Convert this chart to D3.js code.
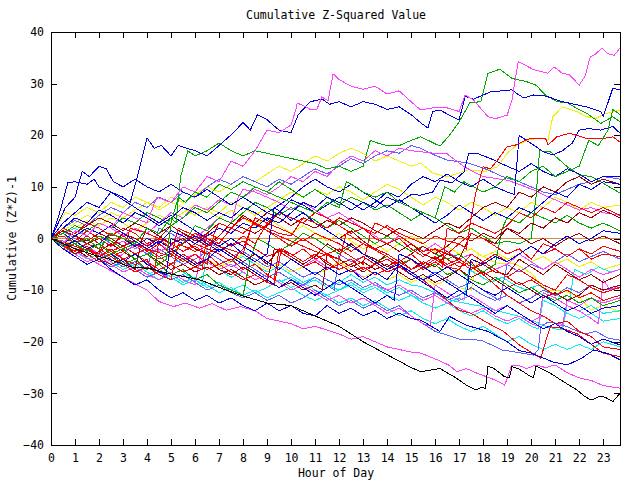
<!DOCTYPE html>
<html>
<head>
<meta charset="utf-8">
<script src="https://cdn.jsdelivr.net/npm/d3@7"></script>
<style>
  body { margin: 0; background: #fff; }
  text { font-family: "DejaVu Sans Mono", monospace; font-size: 11.5px; fill: #000; }
</style>
</head>
<body>
<svg id="chart" width="640" height="480"></svg>
<script>
// tick labels
const hourTicks = d3.range(0, 24);
const valueTicks = [-40, -30, -20, -10, 0, 10, 20, 30, 40];

// each series: [hour, cumulative value]
const magentaTop = [[0,0],[0.5,-1],[1,1.5],[1.5,0.5],[2,3],[2.5,2],[3,5],[3.5,4],[4,3],[4.4,8],[5,7],[5.5,10],[6,9],[6.5,12],[7,11],[7.5,15],[8,14],[8.5,17],[9,21],[9.5,20.5],[10,22],[10.2,25],[10.25,26.2],[10.45,25.9],[10.8,25],[11.07,25],[11.28,27.4],[11.54,26.7],[11.75,31.9],[12,30.8],[12.5,29.5],[13,28.9],[13.5,29.5],[14,28],[14.5,28.6],[15,26.5],[15.4,24.9],[15.9,25.3],[16.5,25.3],[17,24.6],[17.25,27.8],[17.6,26.8],[18.2,23.6],[18.5,23.2],[19,23.9],[19.2,26.8],[19.46,34.3],[20.1,32.7],[20.7,32],[20.96,33.2],[21.3,32],[21.6,31.7],[22,29.7],[22.25,31.5],[22.46,35.2],[22.67,35.7],[22.95,36.9],[23.2,35.8],[23.46,35.5],[23.7,36.9]];
const greenTop = [[0,0],[0.5,1],[1,-1],[1.5,0],[2,-2],[2.5,1],[3,0],[3.5,-1],[4,2],[4.5,1],[5,4],[5.2,3],[5.4,12],[5.7,17],[6,16],[6.5,17],[7,18.5],[7.5,17],[8,16],[8.5,17],[9,16.5],[9.5,16],[10,15.5],[10.5,15],[11,14.5],[11.5,13.5],[12,14],[12.5,13],[13,14],[13.3,19],[13.6,18.5],[14,18],[14.5,18],[15,19],[15.4,19.7],[16.2,17.9],[16.6,20],[17,22.6],[17.45,26.3],[17.9,26.5],[18.2,32],[18.7,32.8],[19.2,31],[19.8,30.4],[20.2,29.7],[20.6,27.8],[21.07,26.5],[21.5,26.3],[21.9,25.2],[22.3,24.3],[22.9,22.3],[23.4,23.6],[23.7,22.6]];
const blueTop = [[0,0],[0.5,3],[1,5],[1.5,7],[2,6],[2.5,9],[3,8],[3.3,7],[3.6,12],[4,19.5],[4.3,17.5],[4.6,18],[5,16],[5.3,18],[6,17],[6.5,16],[7,18],[7.6,20.5],[8,22.5],[8.3,21],[8.6,24],[9,23],[9.5,21],[10,20.5],[10.3,24],[10.8,26.5],[11.3,27],[11.6,26],[12,26.5],[12.5,25.5],[13,26.5],[13.5,26],[14,25],[14.5,25.5],[15,24],[15.4,22.4],[15.7,21.4],[15.9,24.6],[16.2,24.9],[16.7,23.6],[17,23],[17.25,27.5],[17.6,27],[18.3,28.4],[19.2,28.8],[19.4,28.1],[19.7,27.2],[20.1,27.8],[20.6,27.6],[21.3,26.5],[21.9,25.9],[22.3,25.5],[22.9,24.6],[23,23.6],[23.4,29.1],[23.7,28.8]];
const green2 = [[0,0],[0.5,-1.5],[1,-1],[1.5,-2.5],[2,-1],[2.5,-3],[3,-2],[3.5,-4],[4,-3],[4.5,-5],[4.8,-4],[5,3],[5.3,8],[5.6,7],[6,9],[6.5,8],[7,10.5],[7.5,9.5],[8,11],[8.5,10],[9,9],[9.5,8],[10,7],[10.5,6],[11,5],[11.5,7],[12,6],[12.3,11],[12.7,10],[13,9],[13.5,8],[14,9],[14.5,7],[15,6],[15.5,5],[16,4],[16.4,10],[16.8,9],[17.2,11],[17.6,10],[18,9],[18.5,10],[19,12],[19.5,11],[20,13],[20.5,14],[21,12],[21.5,13],[22,14],[22.4,19],[22.8,18],[23.2,21],[23.4,25],[23.7,24]];
const green3 = [[0,0],[0.5,1],[1,2.5],[1.5,1.5],[2,3],[2.5,2],[3,4],[3.5,3],[4,5],[4.5,4],[5,2.5],[5.5,4],[6,6],[6.5,5],[7,7],[7.5,9],[8,8],[8.5,10],[9,9],[9.5,11],[10,9.5],[10.5,8],[11,9.5],[11.5,8],[12,6.5],[12.5,8],[13,7],[13.5,5.5],[14,6.5],[14.5,5],[15,3.5],[15.5,5],[16,4],[16.5,2.5],[17,1],[17.5,2],[18,0.5],[18.5,-1],[19,-0.5],[19.5,-1],[20,0],[20.2,8],[20.35,17],[20.8,16.8],[21.5,13.9],[22,12.3],[22.5,12],[23,10.7],[23.7,8.8]];
const green4 = [[0,0],[0.5,-1],[1,-2],[1.5,-1],[2,0.5],[2.5,-0.5],[3,-2],[3.5,-1],[4,-2.5],[4.5,-4],[5,-3],[5.5,-1],[6,2.5],[6.5,1.5],[7,4],[7.5,3],[8,5],[8.5,7],[9,6],[9.5,4.5],[10,6],[10.5,5],[11,3.5],[11.5,2],[12,3.5],[12.5,2],[13,0.5],[13.5,-1],[14,0.5],[14.5,-1],[15,-2.5],[15.5,-1.5],[16,-3],[16.5,-4],[17,-3],[17.5,-5],[18,-6.5],[18.5,-5],[18.8,2],[19,4],[19.5,3],[20,5],[20.5,4],[21,3],[21.5,4.5],[22,3],[22.5,2],[23,3],[23.7,1.5]];
const green5 = [[0,0],[0.5,-1.5],[1,-3],[1.5,-2],[2,-4],[2.5,-3],[3,-5],[3.5,-4],[4,-6],[4.5,-5],[5,-7],[5.5,-6],[6,-8],[6.5,-7],[7,-9],[7.5,-10],[8,-11],[8.3,-4],[8.6,0],[9,-1],[9.5,-2.5],[10,-1],[10.5,1],[11,0],[11.5,-1.5],[12,-3],[12.5,-1.5],[13,-3],[13.5,-4.5],[14,-3.5],[14.5,-5],[15,-4],[15.5,-6],[16,-5],[16.5,-7],[17,-6],[17.5,-8],[18,-9],[18.5,-7.5],[19,-9],[19.5,-10.5],[20,-9.5],[20.5,-11],[21,-12],[21.5,-11],[22,-12.5],[22.5,-11.5],[23,-13],[23.7,-12]];
const red1 = [[0,0],[0.5,2],[1,1],[1.5,3],[2,2],[2.5,0.5],[3,2],[3.5,1],[4,-1],[4.5,0],[5,-2],[5.5,-1],[6,1],[6.5,0],[7,-1],[7.5,2],[8,1],[8.5,3],[9,2],[9.5,1],[10,0.5],[10.5,4],[11,3],[11.5,2],[12,4],[12.5,3],[13,2],[13.5,1],[14,2.5],[14.5,1],[15,0],[15.5,-1],[16,0.5],[16.5,-0.5],[17,-1],[17.3,-2],[17.5,4],[17.7,9],[18,13.9],[18.3,13.5],[18.6,15.2],[19,17.8],[19.3,18],[19.96,19.4],[20.6,19.4],[20.7,18.1],[21.07,19.7],[21.6,20.4],[22.3,19.4],[22.9,19.3],[23.4,19.7],[23.7,18.7]];
const red2 = [[0,0],[1,-1.5],[2,-3],[2.4,1],[3,0],[4,-2],[5,-3.5],[5.3,2],[6,0.5],[7,-1.5],[8,-3],[8.4,3],[9,1.5],[10,-0.5],[11,-2.5],[12,-4],[12.3,1],[13,-1],[14,-3.5],[15,-6.5],[15.5,-8],[16,-10],[17,-13.9],[17.5,-14.5],[18.2,-16.4],[18.85,-18],[19.5,-20.6],[20.4,-23.2],[20.6,-20],[20.8,-17.1],[21.2,-17.3],[21.9,-18.4],[22.5,-20.5],[23,-22.2],[23.7,-22.9]];
const red3 = [[0,0],[0.5,-1],[1,-2.5],[1.5,-1],[2,-2],[2.5,-3.5],[3,-2.5],[3.3,2],[4,1],[5,-1],[5.5,-2.5],[6,-1],[7,-3],[7.5,-4.5],[8,-2],[8.5,4],[9,3],[10,1],[10.5,-0.5],[11,1],[12,-1],[12.5,-2.5],[13,-1],[14,-3],[14.5,-4.5],[15,-3],[15.5,-5],[16,-3.5],[16.5,-5.5],[17,-6],[17.5,-3],[18,-4.5],[18.5,-6],[19,-7.5],[19.5,-6],[20,-7.5],[20.5,-9],[21,-10],[21.5,-7],[22,-8],[22.5,-9.5],[23,-10.5],[23.7,-9.5]];
const red4 = [[0,0],[0.5,-1.5],[1,-2.5],[1.5,-1.5],[2,-3.5],[2.5,-2],[3,-4],[3.5,-5],[4,-4],[4.3,-6.5],[4.5,0],[5,-1],[5.5,-2.5],[6,-1.5],[6.5,-3],[7,-5],[7.5,-4],[8,-6],[8.5,-5],[9,-7],[9.3,-8],[9.5,-2],[10,-3.5],[10.5,-2],[11,-4],[11.5,-3],[12,-5],[12.5,-4],[13,-6],[13.5,-5],[14,-4],[14.5,-5.5],[15,-4],[15.5,-6],[16,-4.5],[16.3,-5.5],[16.5,2],[17,1],[17.5,3],[18,2],[18.5,1],[19,2.5],[19.5,5],[20,4],[20.5,6],[21,5],[21.5,7],[22,6],[22.5,5],[23,6],[23.7,4.5]];
const red5 = [[0,0],[0.5,-2],[1,-1],[1.5,-3],[2,-4.5],[2.5,-3.5],[3,-5],[3.5,-6.5],[4,-5.5],[4.5,-7],[5,-8],[5.3,-1],[6,-2.5],[6.5,-1.5],[7,0],[7.5,-1.5],[8,0.5],[8.5,-1],[9,3],[9.5,5],[10,4],[10.5,3],[11,5],[11.5,4],[12,2.5],[12.5,1],[13,2],[13.5,0],[14,-1],[14.5,0],[15,-2],[15.5,-3.5],[16,-2],[16.5,-3],[17,-1],[17.5,1],[18,0],[18.5,-1.5],[19,-3],[19.5,-2],[20,-4],[20.5,-1],[21,-2],[21.5,-3.5],[22,-2],[22.5,-4],[23,-3],[23.7,-3.5]];
const red7 = [[0,0],[0.5,1],[1,-0.5],[1.5,1.5],[2,0],[2.5,-1.5],[3,0.5],[3.5,-1],[4,-2.5],[4.5,-1],[5,-3],[5.5,-4.5],[6,-3],[6.5,-5],[6.8,1],[7,3],[7.5,2],[8,4],[8.5,3],[9,1.5],[9.5,0],[10,-1.5],[10.5,0],[11,-1.5],[11.5,-3],[12,-2],[12.5,-3.5],[13,-5],[13.3,1],[13.5,3],[14,2],[14.5,0.5],[15,-1],[15.5,-2.5],[16,-2],[16.5,-4],[17,-5.5],[17.5,-4.5],[18,-7],[18.5,-9],[19,-11],[19.5,-12.5],[20,-14],[20.5,-15],[21,-16.5],[21.5,-16],[22,-18],[22.5,-19],[23,-21],[23.7,-21.5]];
const red8 = [[0,0],[0.5,-1.5],[1,-0.5],[1.5,-2],[2,-3.5],[2.5,-2.5],[3,-4],[3.5,-3],[4,-4.5],[4.5,-6],[5,-5],[5.5,-6.5],[6,-5.5],[6.3,-6],[6.5,1],[7,0],[7.5,-1.5],[8,-0.5],[8.5,-2],[9,-3.5],[9.5,-2.5],[10,-4],[10.5,-5.5],[11,-4.5],[11.5,-6],[12,-5],[12.5,-6.5],[13,-5.5],[13.5,-7],[14,-6],[14.5,-4.5],[15,-6],[15.5,-5],[16,-3.5],[16.5,-5],[17,-4],[17.5,-5.5],[18,-7],[18.5,-6],[19,-7.5],[19.5,-9],[20,-8],[20.5,-9.5],[21,-11],[21.5,-10],[22,-11.5],[22.5,-10.5],[23,-12],[23.7,-11]];
const red9 = [[0,0],[0.5,0.5],[1,-1],[1.5,0.5],[2,-1],[2.5,-2.5],[3,-1.5],[3.5,-3],[4,-2],[4.5,-3.5],[5,-5],[5.5,-3],[6,-4.5],[6.5,-6],[7,-5],[7.5,-6.5],[8,-8],[8.5,-7],[9,-8.5],[9.3,-9],[9.6,-2],[10,-3],[10.5,-4.5],[11,-3],[11.5,-4.5],[12,-6],[12.5,-5],[13,-3.5],[13.5,-5],[14,-6.5],[14.5,-5.5],[15,-7],[15.5,-5.5],[16,-4],[16.5,-5.5],[17,-4.5],[17.5,-6],[18,-4.5],[18.5,-3],[19,-4.5],[19.5,-3],[20,-1.5],[20.5,-3],[21,-2],[21.5,-3.5],[22,-2],[22.5,-3],[23,-1.5],[23.7,-2.5]];
const darkRed1 = [[0,0],[0.5,1.5],[1,0.5],[1.5,-1],[2,0],[2.5,-1.5],[3,1],[3.5,0],[4,-1.5],[4.5,0],[5,2.5],[5.5,1],[6,0],[6.5,-1.5],[7,0.5],[7.5,3],[8,2],[8.5,1],[9,2.5],[9.5,5],[10,4],[10.5,3],[11,2],[11.5,3.5],[12,2.5],[12.5,4],[13,3],[13.5,1.5],[14,0.5],[14.5,2],[15,1],[15.5,0],[16,1.5],[16.5,3],[17,2],[17.5,4],[18,6],[18.5,7],[19,6],[19.5,9],[20,8],[20.5,10],[21,9],[21.5,11],[22,12],[22.5,10.5],[23,11.5],[23.7,10.5]];
const darkRed2 = [[0,0],[0.5,-1],[1,-3],[1.5,-2],[2,-4],[2.5,-5],[3,-4],[3.5,-6],[3.8,0],[4,2],[4.5,1],[5,2.5],[5.5,1],[6,-0.5],[6.5,1],[7,3],[7.5,2],[8,4.5],[8.5,3],[9,5],[9.5,4],[10,2.5],[10.5,4],[11,3],[11.5,1.5],[12,0],[12.5,1.5],[13,-0.5],[13.5,-2],[14,-1],[14.5,-2.5],[15,-1],[15.5,-3],[16,-4],[16.5,-2.5],[17,-4.5],[17.5,-6],[18,-5],[18.5,-6.5],[19,-7],[19.5,-4],[20,-5.5],[20.5,-7],[21,-5],[21.5,-6.5],[22,-8],[22.5,-7],[23,-8.5],[23.7,-7]];
const darkRed3 = [[0,0],[0.5,2],[1,1],[1.5,2.5],[2,4],[2.5,3],[3,1.5],[3.5,3],[4,2],[4.5,0.5],[5,-1],[5.5,0],[6,-2],[6.5,-3],[7,-1.5],[7.5,-3],[8,-4.5],[8.5,-3],[9,-5],[9.5,-2],[10,-3.5],[10.5,-5],[11,-3.5],[11.5,-1],[12,-2.5],[12.5,-1],[13,-3],[13.5,-4],[14,-5.5],[14.5,-4],[15,-6],[15.5,-4.5],[16,-5.5],[16.5,-3],[17,-4],[17.5,1],[18,0],[18.5,-1],[19,2],[19.5,1],[20,3],[20.5,2],[21,4],[21.5,3],[22,5],[22.5,4],[23,5.5],[23.7,4]];
const darkRed4 = [[0,0],[0.5,-1],[1,0.5],[1.5,-0.5],[2,1],[2.5,0],[3,-1.5],[3.5,-0.5],[4,-2],[4.5,-3.5],[5,-2.5],[5.5,-4],[6,-5.5],[6.5,-4],[7,-6],[7.5,-7],[8,-5.5],[8.5,-7],[9,-8.5],[9.3,-2],[10,-3],[10.5,-4.5],[11,-3],[11.5,-5],[12,-6],[12.5,-5],[13,-6.5],[13.5,-5],[14,-3],[14.5,-4.5],[15,-3],[15.5,-1.5],[16,-3],[16.5,-1.5],[17,0.5],[17.5,-0.5],[18,1],[18.5,0],[19,2],[19.5,0.5],[20,-1],[20.5,0],[21,-1.5],[21.5,0],[22,1],[22.5,-0.5],[23,0.5],[23.7,-1]];
const darkRed5 = [[0,0],[0.5,-1],[1,-2],[1.5,-3.5],[2,-2.5],[2.5,-1],[3,-2.5],[3.5,-4],[4,-3],[4.5,-4.5],[5,-6],[5.5,-5],[6,-6.5],[6.5,-5.5],[7,-7],[7.5,-6],[8,-7.5],[8.5,-9],[9,-8],[9.5,-9.5],[10,-8.5],[10.5,-10],[11,-9],[11.3,-10],[11.5,-3],[12,-4],[12.5,-5.5],[13,-4.5],[13.5,-6],[14,-5],[14.5,-6.5],[15,-8],[15.5,-7],[16,-8.5],[16.5,-7.5],[17,-6],[17.5,-7.5],[18,-6.5],[18.5,-8],[19,-9.5],[19.5,-8.5],[20,-10],[20.5,-11.5],[21,-10.5],[21.5,-12],[22,-11],[22.5,-9],[23,-10],[23.7,-9]];
const blue2 = [[0,0],[0.5,2],[1,4],[1.5,3],[2,5.5],[2.5,4.5],[3,3],[3.5,5],[4,4],[4.5,2.5],[5,4],[5.5,6],[6,5],[6.5,3.5],[7,5],[7.5,4],[8,6],[8.5,5],[9,3.5],[9.5,5],[10,7.5],[10.5,6.5],[11,5],[11.5,6.5],[12,8],[12.5,7],[13,5.5],[13.5,7],[14,9],[14.5,8],[15,10.5],[15.5,12],[16,11],[16.5,12.5],[17,11],[17.5,10],[18,11.5],[18.5,10],[19,9],[19.3,8.5],[19.5,20],[19.8,19],[20.2,17.8],[20.5,16.8],[20.9,16.2],[21.3,17],[21.7,18.4],[22,21],[22.4,21.3],[22.9,21],[23.4,21.7],[23.7,20.4]];
const blue3 = [[0,0],[0.5,-1.5],[1,-0.5],[1.5,-2],[2,-1],[2.5,1],[3,0],[3.5,-1.5],[4,0],[4.5,-1],[5,1.5],[5.5,0.5],[6,-1],[6.5,0.5],[7,2],[7.5,1],[8,3],[8.5,2],[9,4],[9.5,3],[10,5],[10.5,7],[11,6],[11.5,8],[12,7],[12.5,5.5],[13,7],[13.5,6],[14,8],[14.5,7],[15,8.5],[15.4,8.4],[15.9,9],[16.2,11.3],[16.7,10.8],[17.2,12.9],[17.4,16.5],[17.8,16.4],[18.3,15.5],[19,14],[19.5,13],[20,14.5],[20.5,13],[21,12],[21.5,13.5],[22,12.5],[22.5,11],[23,12],[23.7,12]];
const blue4 = [[0,0],[0.3,4],[0.7,10.8],[1,11],[1.5,10.5],[1.8,11.5],[2,10],[2.5,9],[3,7.5],[3.5,6],[4,4.5],[4.5,3],[5,4.5],[5.5,3],[6,1.5],[6.5,0],[7,-1.5],[7.5,0],[8,-1.5],[8.5,-3],[9,-4.5],[9.5,-6],[10,-4],[10.5,-5.5],[11,-7],[11.5,-5.5],[12,-7],[12.5,-6],[13,-8],[13.5,-6.5],[14,-8],[14.5,-5],[15,-6.5],[15.5,-8],[16,-7],[16.5,-8.5],[17,-10],[17.3,-11],[17.5,-4],[18,-5],[18.5,-3.5],[19,-4.5],[19.5,-3],[20,-1.5],[20.5,-3],[21,-1],[21.5,0.5],[22,-1],[22.5,0],[23,1.5],[23.7,1]];
const blue5 = [[0,0],[0.5,-2],[1,-3.5],[1.5,-5],[2,-4],[2.5,-6],[3,-7.5],[3.5,-9],[4,-8],[4.5,-10],[5,-11.5],[5.5,-10.5],[6,-12],[6.5,-11],[7,-12.5],[7.5,-11.5],[8,-13],[8.5,-14],[9,-12.5],[9.5,-14],[10,-13],[10.5,-14.5],[11,-15],[11.5,-13],[12,-14.5],[12.5,-13.5],[13,-15],[13.5,-14],[14,-15.5],[14.5,-14.5],[15,-15.5],[15.4,-15.8],[16.2,-18],[16.6,-15.1],[17.3,-16.8],[18.2,-18],[19,-20],[19.5,-21.7],[20,-22.2],[20.9,-23.9],[21.5,-24.5],[22.1,-23.2],[22.6,-21.6],[23.2,-22.3],[23.7,-23.5]];
const blue6 = [[0,0],[0.5,1],[1,-0.5],[1.5,-2],[2,-1],[2.5,-3],[3,-4.5],[3.5,-3],[4,-5],[4.5,-6.5],[4.8,-7],[5,0],[5.5,-1],[6,0.5],[6.5,-1],[7,-2.5],[7.5,-1],[8,-3],[8.5,-4.5],[9,-3],[9.3,6],[9.6,5],[10,3.5],[10.5,5],[11,3],[11.5,1.5],[12,0],[12.5,-1.5],[13,-3],[13.5,-4.5],[14,-6],[14.5,-5],[15,-7],[15.5,-8.5],[16,-10],[16.5,-11.5],[17,-10],[17.5,-11.5],[18,-13],[18.5,-14.5],[19,-13],[19.5,-14.5],[20,-16],[20.5,-17.5],[21,-16.5],[21.5,-18],[22,-19],[22.5,-20.5],[23,-19.5],[23.7,-20.6]];
const blue7 = [[0,0],[0.5,-1],[1,0.5],[1.5,2],[2,1],[2.5,2.5],[3,1],[3.5,-0.5],[4,-2],[4.5,-0.5],[5,-2],[5.5,-3.5],[6,-5],[6.5,-4],[7,-2],[7.5,-3.5],[8,-5],[8.5,-6.5],[9,-8],[9.5,-9.5],[10,-8],[10.5,-9.5],[11,-11],[11.5,-9.5],[12,-8],[12.5,-9.5],[13,-11],[13.5,-12.5],[14,-11],[14.3,-12],[14.5,-3],[15,-4],[15.5,-5.5],[16,-7],[16.5,-5.5],[17,-7],[17.5,-8.5],[18,-10],[18.5,-11],[19,-9.5],[19.5,-11],[20,-12.5],[20.5,-11],[21,-12.5],[21.5,-14],[22,-13],[22.5,-14.5],[23,-13.5],[23.7,-13]];
const blue8 = [[0,0],[0.3,3],[0.6,6],[1,8],[1.3,13],[1.6,12],[2,14],[2.3,13.5],[2.6,11],[3,10],[3.5,11.5],[4,10],[4.5,9],[5,10.5],[5.5,9],[6,8],[6.5,9.5],[7,8],[7.5,6.5],[8,8],[8.5,6.5],[9,5],[9.5,6.5],[10,8],[10.5,10],[11,11.5],[11.5,10],[12,9],[12.5,10.5],[13,9],[13.5,7.5],[14,6],[14.5,7.5],[15,6],[15.5,4.5],[16,3],[16.5,4.5],[17,6.5],[17.5,5],[18,3.5],[18.5,5],[19,4],[19.5,6],[20,5],[20.5,7],[21,9],[21.5,8],[22,10.5],[22.5,9.5],[23,11],[23.7,10.5]];
const lightBlue1 = [[0,0],[0.5,-1.5],[1,-3],[1.5,-2],[2,-4],[2.5,-5.5],[3,-4.5],[3.5,-6],[4,-7.5],[4.5,-6.5],[5,-8],[5.5,-7],[6,-8.5],[6.5,-10],[7,-9],[7.5,-10.5],[8,-11.5],[8.5,-10.5],[9,-12],[9.5,-11],[10,-12.5],[10.5,-11.5],[11,-10],[11.5,-11.5],[12,-13],[12.5,-12],[13,-13.5],[13.5,-12.5],[14,-14],[14.5,-13],[15,-15],[15.5,-16.5],[16,-18],[16.5,-18.7],[17,-19.5],[17.9,-19.7],[18.3,-20.5],[18.8,-21.6],[19.2,-21.9],[19.6,-22.2],[20.1,-22.6],[20.3,-21.5],[20.4,-17.1],[20.7,-16.2],[21.2,-16.5],[21.7,-17.5],[22.2,-18.5],[22.7,-18],[23.2,-19.3],[23.7,-19.7]];
const lightBlue2 = [[0,0],[0.5,1.5],[1,0],[1.5,-1],[2,0.5],[2.5,-1],[3,-2.5],[3.5,-1.5],[4,-3],[4.5,-2],[5,-3.5],[5.5,-5],[6,-4],[6.5,-2.5],[7,-4],[7.5,-5.5],[8,-4.5],[8.5,-6],[9,-7.5],[9.5,-6.5],[10,-8],[10.5,-9],[11,-7.5],[11.5,-9],[11.8,-10],[12,-3],[12.5,-4.5],[13,-3.5],[13.5,-5],[14,-6.5],[14.5,-5.5],[15,-7],[15.5,-8],[16,-6.5],[16.5,-8],[17,-9.5],[17.5,-8.5],[18,-10],[18.5,-11.5],[18.7,-12],[19,-5],[19.5,-6.5],[20,-5],[20.5,-6],[21,-4.5],[21.5,-3],[22,-4.5],[22.5,-3.5],[23,-2.5],[23.7,-4]];
const lightBlue3 = [[0,0],[0.5,2],[1,3.5],[1.5,2.5],[2,4.5],[2.5,6],[3,5],[3.5,7],[4,6],[4.5,8],[5,7],[5.5,9],[6,8],[6.5,10],[7,11.5],[7.5,10.5],[8,12],[8.5,11],[9,10],[9.5,11.5],[10,10.5],[10.5,12],[11,13.5],[11.5,12.5],[12,14],[12.5,15.5],[13,14.5],[13.5,16],[14,17],[14.5,16.5],[15,18],[15.4,17.5],[15.8,16.5],[16.5,15.2],[17.4,14.6],[18.2,13.3],[18.8,12],[19.5,11],[20,10],[20.5,9],[21,8.5],[21.5,9.5],[22,10.5],[22.5,11],[23,12],[23.7,11.5]];
const lightBlue4 = [[0,0],[0.5,-0.5],[1,-2],[1.5,-3.5],[2,-2.5],[2.5,-4],[3,-5.5],[3.5,-4.5],[4,-6],[4.3,-0.5],[4.5,2],[5,1],[5.5,-0.5],[6,1],[6.5,-0.5],[7,-2],[7.5,-3.5],[8,-2.5],[8.5,-4],[9,-5.5],[9.5,-4.5],[10,-6],[10.5,-7.5],[11,-6.5],[11.5,-8],[12,-9],[12.5,-8],[13,-9.5],[13.5,-8.5],[14,-10],[14.5,-11],[15,-10],[15.5,-11.5],[16,-10.5],[16.5,-12],[17,-11],[17.5,-9.5],[18,-11],[18.5,-12],[19,-11],[19.5,-12.5],[20,-11.5],[20.5,-10],[21,-11],[21.5,-9.5],[22,-10.5],[22.5,-9],[23,-10],[23.7,-9.5]];
const magenta2 = [[0,0],[0.5,-2],[1,-3],[1.5,-4.5],[2,-3.5],[2.5,-5],[3,-6.5],[3.5,-5.5],[4,-7],[4.5,-8],[5,-6.5],[5.5,-8],[6,-9],[6.3,-1],[6.5,1],[7,0],[7.5,-1.5],[8,-0.5],[8.5,-2],[9,-3.5],[9.5,-2.5],[10,-4],[10.5,-5.5],[11,-4],[11.5,-5.5],[12,-7],[12.5,-6],[13,-7.5],[13.5,-9],[14,-10],[14.5,-9],[15,-10.5],[15.5,-12],[16,-11],[16.5,-12.5],[17,-13.5],[17.5,-14.5],[18,-13.5],[18.5,-15],[19,-16],[19.5,-15],[20,-16.5],[20.3,-17],[20.5,-10.5],[21,-11.5],[21.5,-13],[22,-14],[22.5,-15.5],[22.8,-16.5],[23,-8],[23.3,-10],[23.7,-9]];
const magenta3 = [[0,0],[0.5,1],[1,2.5],[1.5,1.5],[2,3],[2.5,2],[3,0.5],[3.5,2],[4,1],[4.5,3],[5,5],[5.5,4],[6,6.5],[6.5,5.5],[7,7.5],[7.5,6.5],[8,8],[8.5,9.5],[9,8.5],[9.5,10],[10,12],[10.5,11],[11,13],[11.5,12],[12,14.5],[12.5,16],[13,15],[13.5,17],[14,16],[14.5,17.5],[15,17],[15.4,16.8],[16,16.5],[16.5,16.4],[17.2,13.9],[18,12],[19,11.3],[19.5,10.5],[20.1,9.4],[20.5,8.5],[21,7.5],[21.5,6.5],[22,5.5],[22.5,6],[23,5],[23.7,4.5]];
const magenta4 = [[0,0],[0.5,-1],[1,-2.5],[1.5,-1.5],[2,-3],[2.5,-4.5],[3,-3],[3.5,-1],[4,-2.5],[4.5,-1],[5,-2.5],[5.5,-4],[6,-3],[6.5,-4.5],[7,-6],[7.5,-5],[8,-6.5],[8.5,-8],[9,-7],[9.5,-8.5],[10,-10],[10.5,-9],[11,-10.5],[11.5,-12],[12,-11],[12.5,-12.5],[13,-11.5],[13.5,-13],[14,-14.5],[14.5,-13.5],[15,-15],[15.5,-16.5],[15.8,-17],[16,-9],[16.5,-10.5],[17,-12],[17.5,-11],[18,-12.5],[18.5,-14],[19,-13],[19.5,-14.5],[20,-16],[20.5,-15],[21,-16.5],[21.3,-17],[21.5,-12],[22,-13],[22.5,-11.5],[23,-12.5],[23.7,-11.5]];
const magenta5 = [[0,0],[0.5,1.5],[1,0.5],[1.5,-1],[2,0],[2.5,-1.5],[3,-0.5],[3.5,-2],[4,-1],[4.5,-2.5],[5,-1.5],[5.5,1],[6,0],[6.5,2],[7,4],[7.5,3],[7.8,8],[8,9.5],[8.5,9],[9,8],[9.5,7],[10,5.5],[10.5,7],[11,5.5],[11.5,4],[12,5],[12.5,3.5],[13,2],[13.5,0.5],[14,-1],[14.5,0.5],[15,-1],[15.5,-2.5],[16,-1],[16.5,-2.5],[17,-4],[17.5,-3],[18,-4.5],[18.5,-6],[19,-5],[19.5,-3],[20,-4.5],[20.5,-6],[21,-4.5],[21.5,-6],[22,-7.5],[22.5,-6],[23,-7],[23.7,-6]];
const magentaLow = [[0,0],[1,-2.5],[2,-5],[3,-7.5],[4,-10],[4.5,-12.2],[5.1,-13.2],[5.6,-12.5],[6.2,-13.5],[6.7,-12.6],[7.3,-13.9],[7.9,-13.2],[8.5,-14],[9,-15.5],[10,-16.5],[10.5,-17.5],[11,-17],[12,-18.5],[12.5,-19.5],[13,-19],[14,-21],[15,-22],[15.4,-22.2],[16.2,-23.7],[16.6,-24.6],[16.9,-25.8],[17.3,-25.2],[17.8,-26.2],[18.5,-27.4],[18.9,-28.4],[19.05,-26.4],[19.2,-24.5],[19.5,-24.6],[19.8,-25.2],[20.2,-24.5],[20.6,-25],[21,-24.5],[21.5,-26],[22,-27],[22.5,-27.5],[23,-28.5],[23.7,-29]];
const cyan1 = [[0,0],[0.5,-1],[1,-2.5],[1.5,-4],[2,-3],[2.5,-4.5],[3,-6],[3.5,-5],[4,-6.5],[4.5,-8],[5,-7],[5.5,-8.5],[6,-7.5],[6.5,-9],[7,-10.5],[7.5,-9.5],[8,-11],[8.5,-10],[9,-11.5],[9.5,-10.5],[10,-9.5],[10.5,-11],[11,-12],[11.5,-11],[12,-12.5],[12.5,-11.5],[13,-13],[13.5,-12],[14,-13.5],[14.5,-15],[15,-14],[15.5,-15.5],[16,-16.5],[16.5,-15.5],[17,-17],[17.5,-18],[18,-17],[18.5,-18.5],[19,-20],[19.5,-19],[20,-20.5],[20.5,-21.5],[21,-20.5],[21.5,-21.5],[22,-20.5],[22.5,-21.5],[23,-20],[23.7,-21]];
const cyan2 = [[0,0],[0.5,1],[1,-0.5],[1.5,-2],[2,-1],[2.5,-2.5],[3,-4],[3.5,-3],[4,-4.5],[4.5,-6],[5,-5],[5.5,-6.5],[6,-8],[6.3,-9],[6.5,-2],[7,-3],[7.5,-4.5],[8,-3.5],[8.5,-5],[9,-6.5],[9.5,-5.5],[10,-7],[10.5,-8.5],[11,-7.5],[11.5,-9],[12,-10],[12.5,-9],[13,-10.5],[13.5,-9.5],[14,-11],[14.5,-12],[15,-11],[15.5,-12.5],[16,-13.5],[16.5,-12.5],[17,-14],[17.5,-15],[18,-14],[18.5,-15.5],[19,-16.5],[19.5,-15.5],[20,-17],[20.3,-17.5],[20.5,-12],[21,-13],[21.5,-14.5],[22,-15.5],[22.5,-14.5],[23,-16],[23.7,-15.5]];
const cyan3 = [[0,0],[0.5,-1.5],[1,-3],[1.5,-2],[2,-3.5],[2.5,-5],[3,-4],[3.5,-5.5],[4,-7],[4.5,-6],[5,-7.5],[5.5,-9],[6,-8],[6.5,-9.5],[7,-8.5],[7.5,-10],[8,-9],[8.5,-10.5],[9,-9.5],[9.5,-8],[10,-9.5],[10.5,-8.5],[11,-10],[11.5,-11],[12,-10],[12.5,-8.5],[13,-10],[13.5,-9],[14,-10.5],[14.5,-9.5],[15,-11],[15.5,-12],[16,-11],[16.5,-12.5],[17,-11.5],[17.2,-12],[17.4,-6],[17.8,-7],[18.3,-8.5],[18.8,-7.5],[19.3,-9],[19.8,-10],[20.3,-9],[20.8,-10.5],[21.3,-11.5],[21.6,-12],[21.8,-6],[22.3,-7],[22.8,-5.5],[23.3,-6.5],[23.7,-6]];
const cyan4 = [[0,0],[0.5,1],[1,2],[1.5,0.5],[2,-1],[2.5,0],[3,-1.5],[3.5,-3],[4,-2],[4.5,-3.5],[5,-5],[5.5,-4],[6,-5.5],[6.5,-4.5],[7,-6],[7.5,-7.5],[8,-6.5],[8.5,-8],[9,-7],[9.5,-8.5],[10,-7.5],[10.5,-9],[11,-8],[11.5,-9.5],[12,-8.5],[12.5,-7],[13,-8.5],[13.5,-7.5],[14,-9],[14.5,-8],[15,-9],[15.4,-9.3],[16,-10.5],[16.6,-11.9],[17.2,-12.5],[18,-13.2],[18.6,-14],[19.5,-15.1],[20.1,-16],[20.6,-17],[21,-17.5],[21.3,-17.7],[21.5,-13],[22,-14],[22.5,-13],[23,-14.5],[23.7,-14]];
const yellow1 = [[0,0],[0.5,1.5],[1,3],[1.5,4.5],[2,3.5],[2.5,5],[3,4],[3.5,5.5],[4,7],[4.5,6],[5,8],[5.5,7],[6,8.5],[6.5,10],[7,9],[7.5,10.5],[8,12],[8.5,11],[9,12.5],[9.5,14],[10,13],[10.5,14.5],[11,16],[11.5,15],[12,16.5],[12.5,17.5],[13,16.5],[13.5,15],[14,16],[14.5,15],[15,14],[15.4,14.6],[15.9,12.7],[16.5,11.9],[17.4,13.3],[18.1,13],[18.6,13.9],[19,16.5],[19.4,18.1],[19.9,19.1],[20.4,19.5],[20.7,19],[20.9,23.6],[21.3,25.5],[21.9,24.6],[22.3,23.6],[22.7,23.3],[23.1,24.2],[23.7,24.9]];
const yellow2 = [[0,0],[0.3,3],[0.6,5],[1,4.5],[1.5,6],[2,5],[2.5,7],[3,6],[3.5,8],[4,7],[4.5,5.5],[5,7],[5.5,6],[6,4.5],[6.5,6],[7,5],[7.5,7],[8,6],[8.5,4.5],[9,6],[9.5,7.5],[10,9],[10.5,8],[11,9.5],[11.5,8.5],[12,10],[12.5,9],[13,7.5],[13.5,9],[14,10.5],[14.5,9.5],[15,8],[15.5,6.5],[16,8],[16.5,7],[17,5.5],[17.5,7],[18,6],[18.5,4.5],[19,6],[19.5,5],[20,7],[20.5,6],[21,8],[21.5,7],[22,5.5],[22.5,7],[23,6],[23.7,6.5]];
const yellow3 = [[0,0],[0.5,-1],[1,-0.5],[1.5,-2],[2,-1],[2.5,-2.5],[3,-1.5],[3.5,-3],[4,-2],[4.5,-3.5],[5,-2.5],[5.5,-4],[6,-5],[6.5,-4],[7,-5.5],[7.5,-4.5],[8,-3],[8.5,-4.5],[9,-6],[9.5,-5],[10,-6.5],[10.5,-5.5],[11,-7],[11.5,-6],[12,-4.5],[12.5,-6],[13,-7.5],[13.5,-6.5],[14,-8],[14.5,-7],[15,-8.5],[15.5,-7.5],[16,-9],[16.5,-8],[17,-9.5],[17.5,-10],[17.8,-3],[18.2,-4],[18.6,-4.8],[19.3,-4.8],[20,-6.7],[20.6,-10],[21.3,-10],[22,-11.3],[22.5,-13.9],[23,-12.9],[23.7,-14.2]];
const yellow4 = [[0,0],[0.5,1],[1,2],[1.5,3.5],[2,2.5],[2.5,4],[3,3],[3.5,1.5],[4,3],[4.5,4.5],[5,3.5],[5.5,5],[6,6.5],[6.5,5.5],[7,4],[7.5,5.5],[8,4],[8.5,2.5],[9,4],[9.5,2.5],[10,1],[10.5,2.5],[11,1],[11.5,-0.5],[12,1],[12.5,-0.5],[13,-2],[13.5,-1],[14,-2.5],[14.5,-1],[15,0.5],[15.5,-1],[16,-2.5],[16.5,-1.5],[17,-3],[17.5,-2],[18,-3.5],[18.5,-2.5],[19,-4],[19.5,-3],[20,-4.5],[20.5,-3.5],[21,-5],[21.5,-4],[22,-5.5],[22.5,-4.5],[23,-6],[23.7,-5]];
const flatLine = [[0,0],[23.7,0]];
const black1 = [[0,0],[0.5,-1],[1,-2],[2,-3.5],[2.3,-3.8],[3.3,-5.5],[4.1,-5.8],[4.8,-6.7],[6.2,-8],[7.3,-10],[7.9,-11],[9,-12.5],[10,-13],[11,-15],[12,-17],[13,-20],[14,-22.5],[15,-25],[15.4,-25.8],[15.8,-25.5],[16.2,-25.2],[16.5,-26],[16.9,-27.1],[17.3,-28.4],[17.7,-29.3],[17.9,-28.9],[18.1,-29],[18.2,-24.8],[18.4,-25],[18.9,-26.8],[19.1,-26.9],[19.2,-24.8],[19.5,-25.3],[20,-26.8],[20.1,-26.9],[20.2,-24.7],[20.6,-25.6],[20.9,-26.4],[21.3,-27.6],[21.9,-29.3],[22.2,-30.5],[22.5,-31.3],[22.9,-30.5],[23.1,-30.8],[23.4,-31.6],[23.7,-30]];

const RED = "#ff0000", GREEN = "#00a800", BLUE = "#0000e0", MAGENTA = "#ff40ff",
      CYAN = "#00f0f0", DARKRED = "#a00000", YELLOW = "#f0f000", LIGHTBLUE = "#6060ff", BLACK = "#000000";

const series = [
  { color: "#d09040", pts: flatLine },
  { color: YELLOW, pts: yellow2 }, { color: YELLOW, pts: yellow3 }, { color: YELLOW, pts: yellow4 }, { color: YELLOW, pts: yellow1 },
  { color: CYAN, pts: cyan1 }, { color: CYAN, pts: cyan2 }, { color: CYAN, pts: cyan3 }, { color: CYAN, pts: cyan4 },
  { color: LIGHTBLUE, pts: lightBlue1 }, { color: LIGHTBLUE, pts: lightBlue2 }, { color: LIGHTBLUE, pts: lightBlue3 }, { color: LIGHTBLUE, pts: lightBlue4 },
  { color: MAGENTA, pts: magenta2 }, { color: MAGENTA, pts: magenta3 }, { color: MAGENTA, pts: magenta4 }, { color: MAGENTA, pts: magenta5 }, { color: MAGENTA, pts: magentaLow },
  { color: GREEN, pts: green3 }, { color: GREEN, pts: green4 }, { color: GREEN, pts: green5 },
  { color: DARKRED, pts: darkRed1 }, { color: DARKRED, pts: darkRed2 }, { color: DARKRED, pts: darkRed3 }, { color: DARKRED, pts: darkRed4 }, { color: DARKRED, pts: darkRed5 },
  { color: RED, pts: red2 }, { color: RED, pts: red3 }, { color: RED, pts: red4 }, { color: RED, pts: red5 }, { color: RED, pts: red7 }, { color: RED, pts: red8 }, { color: RED, pts: red9 },
  { color: BLUE, pts: blue2 }, { color: BLUE, pts: blue3 }, { color: BLUE, pts: blue4 }, { color: BLUE, pts: blue5 }, { color: BLUE, pts: blue6 }, { color: BLUE, pts: blue7 }, { color: BLUE, pts: blue8 },
  { color: RED, pts: red1 }, { color: GREEN, pts: green2 }, { color: GREEN, pts: greenTop },
  { color: BLUE, pts: blueTop }, { color: MAGENTA, pts: magentaTop }, { color: BLACK, pts: black1 }
];

const width = 640, height = 480;
const margin = { top: 32, right: 20, bottom: 35, left: 51 };

const x = d3.scaleLinear().domain([0, 23.7]).range([margin.left, width - margin.right]);
const y = d3.scaleLinear().domain([-40, 40]).range([height - margin.bottom, margin.top]);

const svg = d3.select("#chart");

const line = d3.line().x(d => x(d[0])).y(d => y(d[1]));

const plot = svg.append("g");
plot.selectAll("path")
  .data(series)
  .enter().append("path")
  .attr("d", d => line(d.pts))
  .attr("fill", "none")
  .attr("stroke", d => d.color)
  .attr("stroke-width", 1)
  .attr("shape-rendering", "crispEdges");

// ticks point inward on all four sides, labels only bottom and left
function styleAxis(g) {
  g.select(".domain").remove();
  g.selectAll("line").attr("stroke", "#000").attr("shape-rendering", "crispEdges");
  g.attr("font-family", null).attr("font-size", null);
}

svg.append("g")
  .attr("transform", "translate(0," + y(-40) + ")")
  .call(d3.axisBottom(x).tickValues(hourTicks).tickSizeInner(-6).tickSizeOuter(0).tickPadding(9).tickFormat(d3.format("d")))
  .call(styleAxis);

svg.append("g")
  .attr("transform", "translate(0," + y(40) + ")")
  .call(d3.axisTop(x).tickValues(hourTicks).tickSizeInner(-6).tickSizeOuter(0).tickFormat(""))
  .call(styleAxis);

svg.append("g")
  .attr("transform", "translate(" + x(0) + ",0)")
  .call(d3.axisLeft(y).tickValues(valueTicks).tickSizeInner(-6).tickSizeOuter(0).tickPadding(7).tickFormat(d3.format("d")))
  .call(styleAxis);

svg.append("g")
  .attr("transform", "translate(" + x(23.7) + ",0)")
  .call(d3.axisRight(y).tickValues(valueTicks).tickSizeInner(-6).tickSizeOuter(0).tickFormat(""))
  .call(styleAxis);

svg.append("rect")
  .attr("x", x(0)).attr("y", y(40))
  .attr("width", x(23.7) - x(0)).attr("height", y(-40) - y(40))
  .attr("fill", "none").attr("stroke", "#000")
  .attr("shape-rendering", "crispEdges");

svg.append("text")
  .attr("x", 336).attr("y", 19)
  .attr("text-anchor", "middle")
  .text("Cumulative Z-Squared Value");

svg.append("text")
  .attr("x", 336).attr("y", 477)
  .attr("text-anchor", "middle")
  .text("Hour of Day");

svg.append("text")
  .attr("transform", "translate(16," + y(0) + ") rotate(-90)")
  .attr("text-anchor", "middle")
  .text("Cumulative (Z*Z)-1");
</script>
</body>
</html>
